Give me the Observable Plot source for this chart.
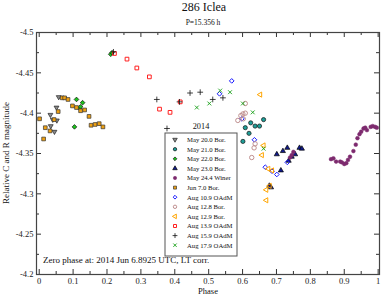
<!DOCTYPE html>
<html><head><meta charset="utf-8">
<script src="https://cdn.jsdelivr.net/npm/d3@7"></script>
<script src="https://cdn.jsdelivr.net/npm/@observablehq/plot@0.6"></script>
<style>body{margin:0;background:#fff}</style>
</head><body><div id="chart"></div>
<script>
// ---- data (phase, relative magnitude) ----
const may20 = [[0.0575,-4.420],[0.051,-4.407],[0.033,-4.398],[0.040,-4.392],[0.052,-4.391],[0.034,-4.384],[0.045,-4.377]];
const may21 = [[0.601,-4.365],[0.608,-4.382],[0.619,-4.375],[0.624,-4.388],[0.637,-4.384],[0.650,-4.384],[0.662,-4.392]];
const may22 = [[0.110,-4.417],[0.128,-4.413],[0.119,-4.406],[0.122,-4.408],[0.104,-4.383],[0.211,-4.473],[0.215,-4.475]];
const may23 = [[0.679,-4.310],[0.684,-4.308],[0.701,-4.349],[0.713,-4.329],[0.719,-4.353],[0.732,-4.357],[0.736,-4.341],[0.745,-4.346],[0.755,-4.349],[0.768,-4.357],[0.775,-4.356]];
const may24 = [[0.740,-4.345],[0.745,-4.348],[0.750,-4.352],[0.861,-4.343],[0.868,-4.344],[0.876,-4.340],[0.888,-4.340],[0.893,-4.339],[0.900,-4.337],[0.906,-4.338],[0.911,-4.342],[0.917,-4.346],[0.927,-4.353],[0.934,-4.361],[0.939,-4.369],[0.945,-4.374],[0.950,-4.377],[0.957,-4.381],[0.962,-4.382],[0.967,-4.379],[0.978,-4.383],[0.984,-4.384],[0.991,-4.383],[0.996,-4.382]];
const jun7 = [[0.001,-4.393],[0.013,-4.368],[0.018,-4.382],[0.032,-4.378],[0.044,-4.392],[0.056,-4.402],[0.068,-4.419],[0.075,-4.419],[0.085,-4.417],[0.098,-4.409],[0.110,-4.407],[0.122,-4.403],[0.134,-4.404],[0.147,-4.396],[0.153,-4.385],[0.165,-4.386],[0.177,-4.387],[0.188,-4.383]];
const aug109 = [[0.532,-4.424],[0.568,-4.440],[0.598,-4.393],[0.635,-4.367],[0.667,-4.333],[0.687,-4.328],[0.701,-4.324],[0.732,-4.339]];
const aug128 = [[0.586,-4.391],[0.595,-4.397],[0.601,-4.399],[0.608,-4.400],[0.608,-4.412],[0.602,-4.393],[0.637,-4.362],[0.634,-4.357],[0.627,-4.345]];
const aug129 = [[0.652,-4.423],[0.662,-4.360],[0.657,-4.348],[0.676,-4.331],[0.687,-4.329],[0.680,-4.310],[0.670,-4.305],[0.670,-4.292]];
const aug139 = [[0.222,-4.474],[0.259,-4.467],[0.288,-4.456],[0.325,-4.445],[0.355,-4.405],[0.386,-4.401],[0.416,-4.414]];
const aug159 = [[0.219,-4.476],[0.347,-4.417],[0.377,-4.381],[0.414,-4.414],[0.445,-4.425],[0.475,-4.426],[0.512,-4.417],[0.542,-4.419]];
const aug179 = [[0.465,-4.407],[0.502,-4.412],[0.534,-4.428],[0.563,-4.426],[0.601,-4.412],[0.630,-4.401],[0.662,-4.356]];

const seriesLabels = ["May 20.0 Bor.","May 21.0 Bor.","May 22.0 Bor.","May 23.0 Bor.","May 24.4 Winer","Jun 7.0 Bor.","Aug 10.9 OAdM","Aug 12.8 Bor.","Aug 12.9 Bor.","Aug 13.9 OAdM","Aug 15.9 OAdM","Aug 17.9 OAdM"];
const xTicks = [0,0.1,0.2,0.3,0.4,0.5,0.6,0.7,0.8,0.9,1];
const xTickLabels = ["0","0.1","0.2","0.3","0.4","0.5","0.6","0.7","0.8","0.9","1"];
const xMinor = [0.05,0.15,0.25,0.35,0.45,0.55,0.65,0.75,0.85,0.95];
const yTicks = [-4.5,-4.45,-4.4,-4.35,-4.3,-4.25,-4.2];
const yTickLabels = ["-4.5","-4.45","-4.4","-4.35","-4.3","-4.25","-4.2"];
const yMinor = [-4.475,-4.425,-4.375,-4.325,-4.275,-4.225];

// ---- symbols ----
const s3 = Math.sqrt(3);
const triDown = {draw(ctx, size){ const y = -Math.sqrt(size/(s3*3)); ctx.moveTo(0,-y*2); ctx.lineTo(-s3*y, y); ctx.lineTo(s3*y, y); ctx.closePath(); }};
const triLeft = {draw(ctx, size){ const y = -Math.sqrt(size/(s3*3)); ctx.moveTo(y*2,0); ctx.lineTo(-y, s3*y); ctx.lineTo(-y, -s3*y); ctx.closePath(); }};
const symTimes = d3.symbolTimes || d3.symbolX;

const styles = [
  {data: may20, symbol: triDown, fill:"#8a8a8a", stroke:"#222", sw:0.7, r:1.8},
  {data: may21, symbol: d3.symbolCircle, fill:"#1f9e98", stroke:"#111", sw:0.7, r:2.1},
  {data: may22, symbol: d3.symbolDiamond2, fill:"#1cc41c", stroke:"#111", sw:0.7, r:2.1},
  {data: may23, symbol: d3.symbolTriangle, fill:"#101a8c", stroke:"#000", sw:0.7, r:1.9},
  {data: may24, symbol: d3.symbolCircle, fill:"#7d2a6e", stroke:"#7d2a6e", sw:0.5, r:1.9},
  {data: jun7, symbol: d3.symbolSquare, fill:"#eea012", stroke:"#333", sw:0.7, r:2.1},
  {data: aug109, symbol: d3.symbolDiamond2, fill:"none", stroke:"#1818ff", sw:1, r:2.1},
  {data: aug128, symbol: d3.symbolCircle, fill:"none", stroke:"#c09090", sw:1, r:2.2},
  {data: aug129, symbol: triLeft, fill:"none", stroke:"#ffa500", sw:1, r:1.9},
  {data: aug139, symbol: d3.symbolSquare, fill:"none", stroke:"#ff2020", sw:1, r:2.1},
  {data: aug159, symbol: d3.symbolPlus, fill:"none", stroke:"#111", sw:0.8, r:2.0},
  {data: aug179, symbol: symTimes, fill:"none", stroke:"#18a018", sw:0.9, r:1.9}
];

const W = 382, H = 294, mL = 36, mR = 3, mT = 32, mB = 20;
const fw = W - mL - mR, fh = H - mT - mB;
const font = "'Liberation Serif','Times New Roman',serif";
const fx = new Map(xTicks.map((t,i)=>[t, xTickLabels[i]]));
const fy = new Map(yTicks.map((t,i)=>[t, yTickLabels[i]]));
const tc = "#333";

const plot = Plot.plot({
  width: W, height: H,
  marginLeft: mL, marginRight: mR, marginTop: mT, marginBottom: mB,
  style: {fontFamily: font, fontSize: "9px", background: "#fff", color: "#222"},
  x: {domain: [-0.008, 1.004]},
  y: {domain: [-4.5, -4.2], reverse: true},
  marks: [
    Plot.axisX({ticks: xTicks, tickFormat: d => fx.get(d), tickSize: 0, tickPadding: 3, label: null, fontSize: 8.5}),
    Plot.axisY({ticks: yTicks, tickFormat: d => fy.get(d), tickSize: 0, tickPadding: 3, label: null, fontSize: 8.5}),
    Plot.tickX(xTicks, {x: d => d, insetTop: fh - 5, stroke: tc}),
    Plot.tickX(xMinor, {x: d => d, insetTop: fh - 3, stroke: tc}),
    Plot.tickX(xTicks, {x: d => d, insetBottom: fh - 5, stroke: tc}),
    Plot.tickX(xMinor, {x: d => d, insetBottom: fh - 3, stroke: tc}),
    Plot.tickY(yTicks, {y: d => d, insetRight: fw - 5, stroke: tc}),
    Plot.tickY(yMinor, {y: d => d, insetRight: fw - 3, stroke: tc}),
    Plot.tickY(yTicks, {y: d => d, insetLeft: fw - 5, stroke: tc}),
    Plot.tickY(yMinor, {y: d => d, insetLeft: fw - 3, stroke: tc}),
    ...styles.map(s => Plot.dot(s.data, {x: d => d[0], y: d => d[1], symbol: s.symbol, r: s.r, fill: s.fill, stroke: s.stroke, strokeWidth: s.sw})),
    Plot.frame({stroke: "#444", strokeWidth: 1.2})
  ]
});

const svg = d3.select(plot);
const txt = (x, y, s, size, anchor="middle") => svg.append("text").attr("x", x).attr("y", y)
  .attr("text-anchor", anchor).attr("font-family", font).attr("font-size", size).attr("fill", "#111").text(s);
txt(204, 10.5, "286 Iclea", 12);
txt(203, 25, "P=15.356 h", 7.5);
txt(208, 293.5, "Phase", 8.5);
txt(43, 262.5, "Zero phase at: 2014 Jun 6.8925 UTC, LT corr.", 9, "start");
svg.append("text").attr("transform", "translate(9,153) rotate(-90)").attr("text-anchor","middle")
  .attr("font-family", font).attr("font-size", 9).attr("fill","#111").text("Relative C and R magnitude");

// legend
const lg = svg.append("g");
lg.append("rect").attr("x", 165).attr("y", 133).attr("width", 72).attr("height", 123)
  .attr("fill", "#fff").attr("stroke", "#555").attr("stroke-width", 1);
txt(201, 128.5, "2014", 8.3);
styles.forEach((s, i) => {
  const cy = 139.6 + i * 9.6;
  lg.append("path").attr("d", d3.symbol(s.symbol, 9)()).attr("transform", `translate(175,${cy})`)
    .attr("fill", s.fill).attr("stroke", s.stroke).attr("stroke-width", s.sw);
  lg.append("text").attr("x", 187).attr("y", cy + 2.3).attr("text-anchor", "start")
    .attr("font-family", font).attr("font-size", 6.7).attr("fill", "#111").text(seriesLabels[i]);
});

document.getElementById("chart").appendChild(plot);
</script>
</body></html>
